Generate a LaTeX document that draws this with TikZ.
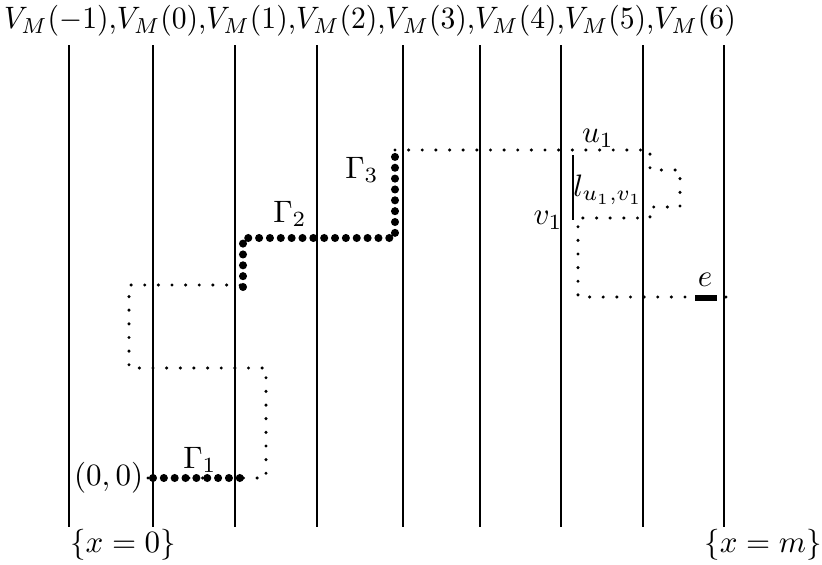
\documentclass[tikz,border=0pt]{standalone}
\begin{document}
\begin{tikzpicture}[x=0.3226pt,y=-0.3226pt,
    wall/.style={line width=0.65pt},
    thinpath/.style={line width=1.1pt,line cap=round,dash pattern=on 0pt off 4.4pt},
    thickpath/.style={line width=2.6pt,line cap=round,dash pattern=on 0pt off 3.5pt},
    lbl/.style={inner sep=0.75pt}]
\useasboundingbox (0,0) rectangle (822,565);

% vertical lines
\foreach \i/\x in {0/69,1/153,2/235,3/317,4/403,5/480,6/561,7/643,8/724}
  \draw[wall] (\x,45) coordinate (top\i) -- (\x,527) coordinate (bot\i);

% corners of the path
\coordinate (o) at (153,478);
\coordinate (a1) at (148,478);
\coordinate (a2) at (266,478);
\coordinate (a3) at (266,368);
\coordinate (a4) at (129,368);
\coordinate (a5) at (129,285);
\coordinate (b1) at (243,287);
\coordinate (b2) at (243,238);
\coordinate (b3) at (395,238);
\coordinate (b4) at (395,150);
\coordinate (c1) at (650,150);
\coordinate (c2) at (650,170);
\coordinate (c3) at (680,170);
\coordinate (c4) at (680,207);
\coordinate (c5) at (650,207);
\coordinate (c6) at (650,218);
\coordinate (c7) at (578,218);
\coordinate (c8) at (578,297);
\coordinate (c9) at (730,297);
\coordinate (u) at (573,155);
\coordinate (v) at (573,220);
\coordinate (e1) at (695,298);
\coordinate (e2) at (717,298);

% thin dotted path
\draw[thinpath] (a1) -- (a2) -- (a3) -- (a4) -- (a5) -- (b1 |- a5);
\draw[thinpath] (b4) -- (c1) -- (c2) -- (c3) -- (c4) -- (c5) -- (c6) -- (c7) -- (c8) -- (c9);

% Gamma pieces
\draw[thickpath] (o) -- (240,478);
\draw[thickpath] (b1) -- (b2) -- (b3) -- (b4);

% segment l and edge e
\draw[wall] (u) -- (v);
\draw[line width=2pt] (e1) -- (e2);

% labels
\node[lbl,xscale=0.955] (title) at (370,21) {$V_M(-1)$,$V_M(0)$,$V_M(1)$,$V_M(2)$,$V_M(3)$,$V_M(4)$,$V_M(5)$,$V_M(6)$};
\node[lbl,anchor=east] (orig) at (146,478) {$(0,0)$};
\node[lbl] (g1) at (200,460) {$\Gamma_1$};
\node[lbl] (g2) at (290,214) {$\Gamma_2$};
\node[lbl] (g3) at (362,170) {$\Gamma_3$};
\node[lbl] (ulab) at (598,138) {$u_1$};
\node[lbl] (vlab) at (548,220) {$v_1$};
\node[lbl] (llab) at (608,190) {$l_{u_1,v_1}$};
\node[lbl] (elab) at (705,280) {$e$};
\node[lbl] (x0) at (123,545) {$\{x=0\}$};
\node[lbl] (xm) at (763,545) {$\{x=m\}$};
\end{tikzpicture}
\end{document}
